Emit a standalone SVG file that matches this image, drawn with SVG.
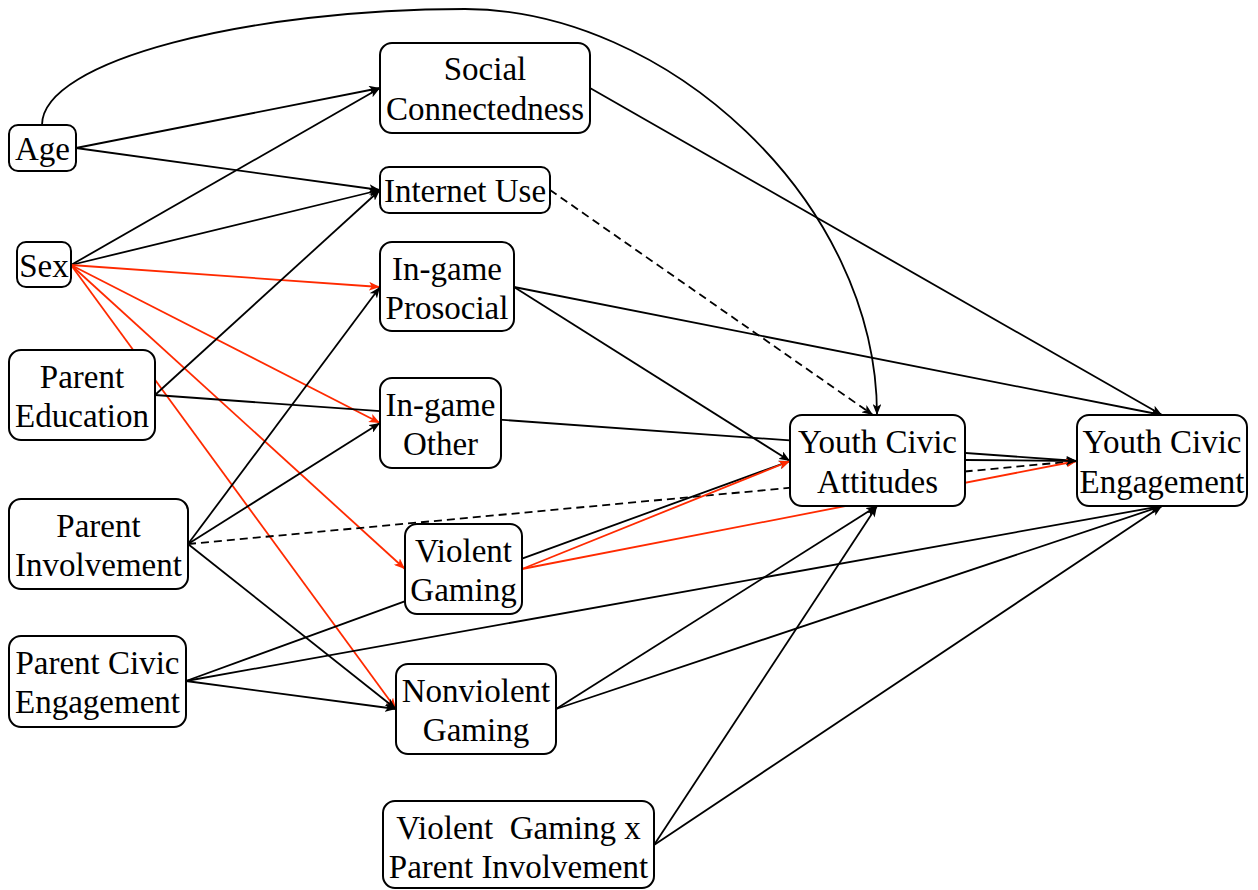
<svg xmlns="http://www.w3.org/2000/svg" width="1258" height="890" viewBox="0 0 1258 890">
<style>
.box{fill:#fff;stroke:#000;stroke-width:2}
.t{font-family:'Liberation Serif','Times New Roman',serif;font-size:33px;fill:#000;text-anchor:middle}
.e{fill:none;stroke:#000;stroke-width:1.8;marker-end:url(#ab)}
.r{fill:none;stroke:#ff2a00;stroke-width:1.8;marker-end:url(#ar)}
.d{stroke-dasharray:8 5}
</style>
<defs>
<marker id="ab" viewBox="0 0 10 8" refX="10" refY="4" markerWidth="11" markerHeight="8.8" markerUnits="userSpaceOnUse" orient="auto">
<path d="M0,0 L10,4 L0,8 L2.5,4 z" fill="#000"/>
</marker>
<marker id="ar" viewBox="0 0 10 8" refX="10" refY="4" markerWidth="11" markerHeight="8.8" markerUnits="userSpaceOnUse" orient="auto">
<path d="M0,0 L10,4 L0,8 L2.5,4 z" fill="#ff2a00"/>
</marker>
</defs>
<rect width="1258" height="890" fill="#fff"/>
<g id="connectors">
<path class="e" d="M42,125 C42,60 250,9 465,9 C665,9 877,200 877,415"/>
<path class="e" d="M76,148 L380,88"/>
<path class="e" d="M76,148 L380,190"/>
<path class="e" d="M71,265 L380,88"/>
<path class="e" d="M71,265 L380,190"/>
<path class="r" d="M71,265 L380,287"/>
<path class="r" d="M71,265 L380,423"/>
<path class="r" d="M71,265 L405,569"/>
<path class="r" d="M71,265 L396,709"/>
<path class="e" d="M155,395 L380,190"/>
<path class="e" d="M155,395 L1077,461"/>
<path class="e" d="M188,544 L380,287"/>
<path class="e" d="M188,544 L380,423"/>
<path class="e" d="M188,544 L396,709"/>
<path class="e d" d="M188,544 L1077,461"/>
<path class="e" d="M186,681 L790,461"/>
<path class="e" d="M186,681 L1162,506"/>
<path class="e" d="M186,681 L396,709"/>
<path class="e" d="M590,88 L1162,415"/>
<path class="e d" d="M550,190 L873,415"/>
<path class="e" d="M514,287 L1162,415"/>
<path class="e" d="M514,287 L790,461"/>
<path class="r" d="M522,569 L790,461"/>
<path class="r" d="M522,569 L1077,461"/>
<path class="e" d="M556,709 L877,506"/>
<path class="e" d="M556,709 L1162,506"/>
<path class="e" d="M654,845 L877,506"/>
<path class="e" d="M654,845 L1162,506"/>
<path class="e" d="M965,460 L1077,461"/>
</g>
<g font-family="Liberation Serif, Times New Roman, serif" font-size="33">
<g id="age"><rect class="box" x="9" y="125" width="67" height="46" rx="9"/><text class="t" x="42.5" y="160">Age</text></g>
<g id="sex"><rect class="box" x="17" y="242" width="54" height="45" rx="9"/><text class="t" x="44" y="277">Sex</text></g>
<g id="parent-education"><rect class="box" x="9" y="350" width="146" height="90" rx="12"/><text class="t" x="82" y="388">Parent</text><text class="t" x="82" y="427">Education</text></g>
<g id="parent-involvement"><rect class="box" x="9" y="499" width="179" height="90" rx="12"/><text class="t" x="98.5" y="537">Parent</text><text class="t" x="98.5" y="576">Involvement</text></g>
<g id="parent-civic-engagement"><rect class="box" x="9" y="636" width="177" height="91" rx="12"/><text class="t" x="97.5" y="674">Parent Civic</text><text class="t" x="97.5" y="713">Engagement</text></g>
<g id="social-connectedness"><rect class="box" x="380" y="43" width="210" height="90" rx="12"/><text class="t" x="485" y="80">Social</text><text class="t" x="485" y="120">Connectedness</text></g>
<g id="internet-use"><rect class="box" x="380" y="167" width="170" height="46" rx="9"/><text class="t" x="465" y="202">Internet Use</text></g>
<g id="in-game-prosocial"><rect class="box" x="380" y="242" width="134" height="89" rx="12"/><text class="t" x="447" y="280">In-game</text><text class="t" x="447" y="319">Prosocial</text></g>
<g id="in-game-other"><rect class="box" x="380" y="378" width="121" height="90" rx="12"/><text class="t" x="440.5" y="416">In-game</text><text class="t" x="440.5" y="455">Other</text></g>
<g id="violent-gaming"><rect class="box" x="405" y="524" width="117" height="90" rx="12"/><text class="t" x="463.5" y="562">Violent</text><text class="t" x="463.5" y="601">Gaming</text></g>
<g id="nonviolent-gaming"><rect class="box" x="396" y="664" width="160" height="90" rx="12"/><text class="t" x="476" y="702">Nonviolent</text><text class="t" x="476" y="741">Gaming</text></g>
<g id="vg-x-pi"><rect class="box" x="383" y="801" width="271" height="87" rx="12"/><text class="t" x="518.5" y="839" xml:space="preserve">Violent  Gaming x</text><text class="t" x="518.5" y="878">Parent Involvement</text></g>
<g id="youth-civic-attitudes"><rect class="box" x="790" y="415" width="175" height="91" rx="12"/><text class="t" x="877.5" y="453">Youth Civic</text><text class="t" x="877.5" y="493">Attitudes</text></g>
<g id="youth-civic-engagement"><rect class="box" x="1077" y="415" width="170" height="91" rx="12"/><text class="t" x="1162" y="453">Youth Civic</text><text class="t" x="1162" y="493">Engagement</text></g>
</g>
</svg>
